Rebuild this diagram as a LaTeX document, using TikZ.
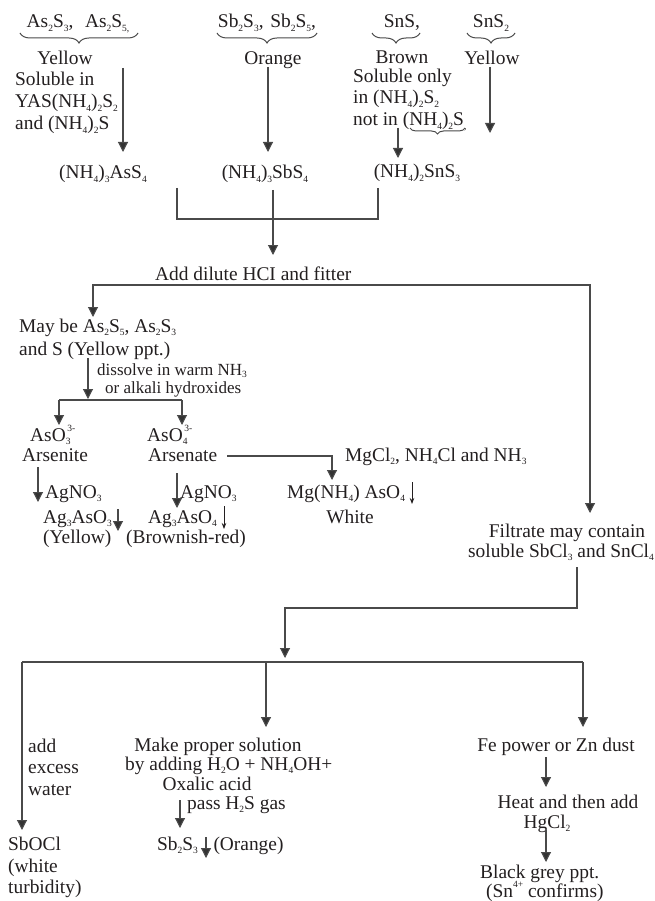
\documentclass[tikz,border=0pt]{standalone}
\usepackage{fontspec}
\setmainfont{Liberation Serif}
\usetikzlibrary{arrows.meta,decorations.pathreplacing}
\newcommand\sbx[1]{\raisebox{-0.35ex}{\fontsize{9.5}{10}\selectfont #1}}
\newcommand\spx[1]{\raisebox{1.05ex}{\fontsize{9.5}{10}\selectfont #1}}
\definecolor{ink}{HTML}{231F20}
\definecolor{wire}{HTML}{4A4A4A}
\definecolor{head}{HTML}{333333}
\begin{document}
\begin{tikzpicture}[x=1pt,y=-1pt,
  font=\fontsize{19.4}{21.5}\selectfont,
  every node/.style={inner sep=0pt,text=ink},
  txt/.style={anchor=base west},
  ctxt/.style={anchor=base},
  small/.style={font=\fontsize{17}{19}\selectfont},
  flow/.style={draw=wire,line width=1.1pt},
  arr/.style={flow,-{Triangle[width=10pt,length=10pt,fill=head]}},
  tarr/.style={draw=ink,line width=0.8pt,-{Stealth[width=4.5pt,length=6pt]}},
  brc/.style={draw=wire,line width=1pt,decorate,decoration={brace,mirror,amplitude=#1}},
  brc/.default=10pt]
\fill[white] (0,0) rectangle (655,901);
\useasboundingbox (0,0) rectangle (655,901);

% ---------- top row ----------
\node[ctxt] (as) at (78,28) {As\sbx{2}S\sbx{3},\hspace{0.6em}As\sbx{2}S\sbx{5,}};
\node[ctxt] (sb) at (267,28) {Sb\sbx{2}S\sbx{3},\hspace{0.35em}Sb\sbx{2}S\sbx{5},};
\node[ctxt] (sns) at (402,28) {SnS,};
\node[ctxt] (sns2) at (491,28) {SnS\sbx{2}};

\coordinate (b1l) at (20,33);  \coordinate (b1r) at (138,33);
\coordinate (b2l) at (217,33); \coordinate (b2r) at (317,33);
\coordinate (b3l) at (372,33); \coordinate (b3r) at (420,33);
\coordinate (b4l) at (467,33); \coordinate (b4r) at (515,33);
\draw[brc] (b1l) -- (b1r);
\draw[brc] (b2l) -- (b2r);
\draw[brc] (b3l) -- (b3r);
\draw[brc] (b4l) -- (b4r);

\node[ctxt] (y1) at (65,65) {Yellow};
\node[txt] (sol1) at (15,86) {Soluble in};
\node[txt] (sol2) at (15,108) {YAS(NH\sbx{4})\sbx{2}S\sbx{2}};
\node[txt] (sol3) at (15,130) {and (NH\sbx{4})\sbx{2}S};
\node[ctxt] (or1) at (273,65) {Orange};
\node[ctxt] (br) at (402,64) {Brown};
\node[ctxt] (y2) at (492,65) {Yellow};
\node[txt] (so1) at (353,83) {Soluble only};
\node[txt] (so2) at (353,104) {in (NH\sbx{4})\sbx{2}S\sbx{2}};
\node[txt] (so3) at (353,126) {not in (NH\sbx{4})\sbx{2}S\sbx{,}};
\coordinate (b5l) at (410,128); \coordinate (b5r) at (465,128);
\draw[brc=6pt] (b5l) -- (b5r);

\coordinate (a1s) at (123,68);  \coordinate (a1e) at (123,152);
\coordinate (a2s) at (268,67);  \coordinate (a2e) at (268,152);
\coordinate (a3s) at (398,128); \coordinate (a3e) at (398,158);
\coordinate (a4s) at (490,67);  \coordinate (a4e) at (490,133);
\draw[arr] (a1s) -- (a1e);
\draw[arr] (a2s) -- (a2e);
\draw[arr] (a3s) -- (a3e);
\draw[arr] (a4s) -- (a4e);

% ---------- second row ----------
\node[ctxt] (am) at (103,179) {(NH\sbx{4})\sbx{3}AsS\sbx{4}};
\node[ctxt] (sm) at (265,179) {(NH\sbx{4})\sbx{3}SbS\sbx{4}};
\node[ctxt] (tm) at (417,178) {(NH\sbx{4})\sbx{2}SnS\sbx{3}};

\coordinate (k1) at (177,188); \coordinate (k2) at (378,188);
\coordinate (k3) at (273,190); \coordinate (k4) at (273,255);
\draw[flow] (k1) |- (k2 |- 0,219) -- (k2);
\draw[arr] (k3) -- (k4);

\node[txt] (hcl) at (155,280) {Add dilute HCI and fitter};
\coordinate (h1) at (93,285); \coordinate (h2) at (590,285);
\coordinate (h1e) at (93,317); \coordinate (h2e) at (590,513);
\draw[arr] (h2) -- (h1) -- (h1e);
\draw[arr] (h1) -- (h2) -- (h2e);

% ---------- arsenic branch ----------
\node[txt] (may1) at (19,332) {May be As\sbx{2}S\sbx{5}, As\sbx{2}S\sbx{3}};
\node[txt] (may2) at (19,355) {and S (Yellow ppt.)};
\node[txt,small] (dis1) at (97,375) {dissolve in warm NH\sbx{3}};
\node[txt,small] (dis2) at (105,393) {or alkali hydroxides};
\coordinate (d1) at (88,358); \coordinate (d2) at (88,399);
\draw[arr] (d1) -- (d2);
\coordinate (sl) at (59,400); \coordinate (sr) at (182,400);
\coordinate (sle) at (59,425); \coordinate (sre) at (182,425);
\draw[flow] (sl) -- (sr);
\draw[arr] (sl) -- (sle);
\draw[arr] (sr) -- (sre);

\node[txt] (aso3) at (30,441) {AsO\rlap{\sbx{3}}\spx{\,3-}};
\node[txt] (ars1) at (22,461) {Arsenite};
\node[txt] (aso4) at (147,441) {AsO\rlap{\sbx{4}}\spx{\,3-}};
\node[txt] (ars2) at (148,461) {Arsenate};
\node[txt] (mg) at (345,461) {MgCl\sbx{2}, NH\sbx{4}Cl and NH\sbx{3}};
\coordinate (g1) at (227,456); \coordinate (g2) at (332,456); \coordinate (g3) at (332,480);
\draw[arr] (g1) -- (g2) -- (g3);

\coordinate (e1) at (38,467); \coordinate (e1e) at (38,502);
\coordinate (e2) at (177,473); \coordinate (e2e) at (177,508);
\draw[arr] (e1) -- (e1e);
\draw[arr] (e2) -- (e2e);

\node[txt] (ag1) at (45,498) {AgNO\sbx{3}};
\node[txt] (p1) at (43,523) {Ag\sbx{3}AsO\sbx{3}};
\node[txt] (c1) at (43,543) {(Yellow)};
\node[txt] (ag2) at (180,498) {AgNO\sbx{3}};
\node[txt] (p2) at (148,523) {Ag\sbx{3}AsO\sbx{4}};
\node[txt] (c2) at (126,543) {(Brownish-red)};
\node[txt] (p3) at (287,498) {Mg(NH\sbx{4}) AsO\sbx{4}};
\node[ctxt] (c3) at (350,523) {White};

\coordinate (q1) at (118,509); \coordinate (q1e) at (118,531);
\draw[draw=wire,line width=1.1pt,-{Triangle[width=10pt,length=10pt,fill=head]}] (q1) -- (q1e);
\coordinate (q2) at (224,506); \coordinate (q2e) at (224,529);
\draw[tarr] (q2) -- (q2e);
\coordinate (q3) at (412,482); \coordinate (q3e) at (412,504);
\draw[tarr] (q3) -- (q3e);

% ---------- filtrate ----------
\node[ctxt] (f1) at (567,537) {Filtrate may contain};
\node[ctxt] (f2) at (561,557) {soluble SbCl\sbx{3} and SnCl\sbx{4}};
\coordinate (t1) at (577,567); \coordinate (t2) at (577,608);
\coordinate (t3) at (285,608); \coordinate (t4) at (285,658);
\draw[arr] (t1) -- (t2) -- (t3) -- (t4);

\coordinate (u1) at (22,662); \coordinate (u2) at (266,662); \coordinate (u3) at (583,662);
\coordinate (u1e) at (22,830); \coordinate (u2e) at (266,727); \coordinate (u3e) at (583,727);
\draw[flow] (u1) -- (u3);
\draw[arr] (u1) -- (u1e);
\draw[arr] (u2) -- (u2e);
\draw[arr] (u3) -- (u3e);

% ---------- bottom left ----------
\node[txt] (w1) at (28,752) {add};
\node[txt] (w2) at (28,773) {excess};
\node[txt] (w3) at (28,795) {water};
\node[txt] (s1) at (8,850) {SbOCl};
\node[txt] (s2) at (8,872) {(white};
\node[txt] (s3) at (8,893) {turbidity)};

% ---------- bottom middle ----------
\node[ctxt] (m1) at (218,751) {Make proper solution};
\node[txt] (m2) at (125,770) {by adding H\sbx{2}O + NH\sbx{4}OH+};
\node[ctxt] (m3) at (207,790) {Oxalic acid};
\node[txt] (m4) at (187,809) {pass H\sbx{2}S gas};
\coordinate (n1) at (180,800); \coordinate (n1e) at (180,828);
\draw[arr] (n1) -- (n1e);
\node[txt] (p4) at (157,850) {Sb\sbx{2}S\sbx{3}\hspace{0.8em}(Orange)};
\coordinate (q4) at (206,837); \coordinate (q4e) at (206,858);
\draw[draw=wire,line width=1.1pt,-{Triangle[width=10pt,length=10pt,fill=head]}] (q4) -- (q4e);

% ---------- bottom right ----------
\node[ctxt] (r1) at (556,751) {Fe power or Zn dust};
\node[ctxt] (r2) at (568,808) {Heat and then add};
\node[ctxt] (r3) at (547,828) {HgCl\sbx{2}};
\node[txt] (r4) at (480,878) {Black grey ppt.};
\node[txt] (r5) at (486,897) {(Sn\spx{4+} confirms)};
\coordinate (v1) at (546,757); \coordinate (v1e) at (546,787);
\coordinate (v2) at (546,830); \coordinate (v2e) at (546,862);
\draw[arr] (v1) -- (v1e);
\draw[arr] (v2) -- (v2e);
\end{tikzpicture}
\end{document}
